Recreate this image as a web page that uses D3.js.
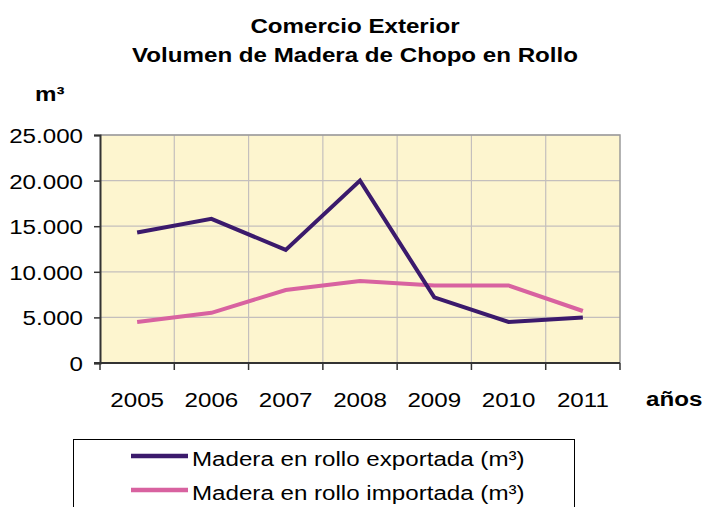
<!DOCTYPE html>
<html>
<head>
<meta charset="utf-8">
<script src="https://cdn.jsdelivr.net/npm/d3@7"></script>
<style>
  html, body { margin: 0; padding: 0; background: #ffffff; }
  svg { display: block; }
  text { font-family: "Liberation Sans", Arial, sans-serif; fill: #000; }
</style>
</head>
<body>
<svg id="chart" width="706" height="507"></svg>
<script>
// Chart data
const years = ["2005", "2006", "2007", "2008", "2009", "2010", "2011"];
const exported = [14300, 15800, 12400, 20000, 7200, 4500, 5000];
const imported = [4500, 5500, 8000, 9000, 8500, 8500, 5700];
const yTicks = [0, 5000, 10000, 15000, 20000, 25000];
const seriesNames = ["Madera en rollo exportada (m³)", "Madera en rollo importada (m³)"];
const seriesColors = ["#3b1a6c", "#d862a0"];
const titleLines = ["Comercio Exterior", "Volumen de Madera de Chopo en Rollo"];

const svg = d3.select("#chart");
const plot = { left: 100, right: 620, top: 135, bottom: 363 };
const STRETCH = 1.15;   // text is drawn slightly widened
const FS = 21;

const x = d3.scaleBand().domain(years).range([plot.left, plot.right]).paddingInner(0).paddingOuter(0);
const y = d3.scaleLinear().domain([0, 25000]).range([plot.bottom, plot.top]);

function label(g, str, px, py, anchor, bold) {
  return g.append("text")
    .attr("transform", `translate(${px},${py}) scale(${STRETCH},1)`)
    .attr("text-anchor", anchor)
    .attr("font-size", FS)
    .attr("font-weight", bold ? "bold" : "normal")
    .text(str);
}

// Titles
titleLines.forEach((t, i) => label(svg, t, 355, 33 + i * 29, "middle", true));
label(svg, "m³", 35, 101, "start", true);
label(svg, "años", 646, 406, "start", true);

// Plot background
svg.append("rect")
  .attr("x", plot.left).attr("y", plot.top)
  .attr("width", plot.right - plot.left).attr("height", plot.bottom - plot.top)
  .attr("fill", "#fdf5cf");

// Gridlines
const grid = svg.append("g").attr("stroke", "#c4bfbd").attr("stroke-width", 1.2);
yTicks.filter(v => v > 0).forEach(v => {
  grid.append("line").attr("x1", plot.left).attr("x2", plot.right)
    .attr("y1", y(v)).attr("y2", y(v));
});
years.slice(1).forEach(yr => {
  grid.append("line").attr("x1", x(yr)).attr("x2", x(yr))
    .attr("y1", plot.top).attr("y2", plot.bottom);
});
// Plot border (top and right)
svg.append("path")
  .attr("d", `M${plot.left},${plot.top}H${plot.right}V${plot.bottom}`)
  .attr("fill", "none").attr("stroke", "#9a9a9a").attr("stroke-width", 1.5);

// Y axis
const yAxis = d3.axisLeft(y).tickValues(yTicks).tickSize(6).tickFormat("");
const yg = svg.append("g").attr("transform", `translate(${plot.left},0)`).call(yAxis);
yg.select(".domain").attr("stroke", "#333").attr("stroke-width", 2);
yg.selectAll(".tick line").attr("stroke", "#333").attr("stroke-width", 1.5);
yTicks.forEach(v => {
  label(svg, d3.format(",")(v).replace(/,/g, "."), 83, y(v) + 8, "end", false);
});

// X axis with ticks on category boundaries
const xg = svg.append("g").attr("transform", `translate(0,${plot.bottom})`);
xg.append("line").attr("x1", plot.left - 6).attr("x2", plot.right)
  .attr("stroke", "#333").attr("stroke-width", 2);
years.concat(["end"]).forEach((yr, i) => {
  const bx = plot.left + i * x.step();
  xg.append("line").attr("x1", bx).attr("x2", bx).attr("y1", 0).attr("y2", 7)
    .attr("stroke", "#333").attr("stroke-width", 1.5);
});
years.forEach(yr => label(svg, yr, x(yr) + x.bandwidth() / 2, 407, "middle", false));

// Series lines
const line = d3.line()
  .x((d, i) => x(years[i]) + x.bandwidth() / 2)
  .y(d => y(d));
[exported, imported].slice().reverse().forEach((s, k) => {
  const idx = 1 - k;
  svg.append("path").datum(s)
    .attr("d", line)
    .attr("fill", "none")
    .attr("stroke", seriesColors[idx])
    .attr("stroke-width", 4)
    .attr("stroke-linejoin", "miter");
});

// Legend
const lg = svg.append("g");
lg.append("rect").attr("x", 73.5).attr("y", 439.5).attr("width", 501).attr("height", 90)
  .attr("fill", "#fff").attr("stroke", "#000").attr("stroke-width", 1);
seriesNames.forEach((n, i) => {
  const ly = 456 + i * 34;
  lg.append("line").attr("x1", 131).attr("x2", 188).attr("y1", ly).attr("y2", ly)
    .attr("stroke", seriesColors[i]).attr("stroke-width", 4.5);
  label(lg, n, 192, ly + 9.5, "start", false);
});
</script>
</body>
</html>
